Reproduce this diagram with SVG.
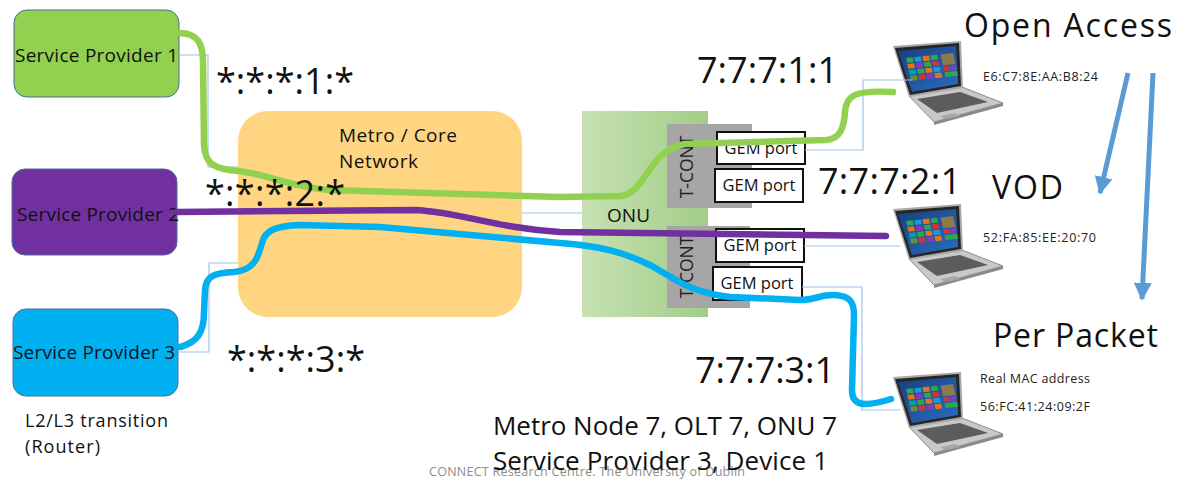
<svg xmlns="http://www.w3.org/2000/svg" xmlns:xlink="http://www.w3.org/1999/xlink" width="1187" height="483" viewBox="0 0 1187 483">
  <style>
    text { font-family: "Open Sans", "Noto Sans", "Liberation Sans", sans-serif; fill: #111; }
    .sp { stroke: #4a6f96; stroke-width: 1; }
    .sp-label { font-size: 19px; }
    .addr { font-size: 36px; }
    .mode { font-size: 32px; }
    .mac { font-size: 12.5px; fill: #222; }
    .gem { fill: #fff; stroke: #111; stroke-width: 2; }
    .gem-label { font-size: 16.5px; text-anchor: middle; }
    .tcont { fill: #a6a6a6; }
    .tcont-label { font-size: 17.5px; text-anchor: middle; fill: #222; }
    .thin { fill: none; stroke: #9dc3e6; stroke-width: 1.2; }
    .flow { fill: none; stroke-width: 6.5; stroke-linecap: round; stroke-linejoin: round; }
    .note { font-size: 26px; }
    .hint { fill: none; stroke: #5b9bd5; stroke-width: 5; marker-end: url(#arrowhead); }
  </style>
  <defs>
    <linearGradient id="onuFill" x1="0" y1="0" x2="1" y2="0">
      <stop offset="0" stop-color="#c6e1b3"/>
      <stop offset="1" stop-color="#a3cd88"/>
    </linearGradient>
    <linearGradient id="screenFill" x1="0" y1="0" x2="1" y2="1">
      <stop offset="0" stop-color="#16407f"/>
      <stop offset="1" stop-color="#2c6cc0"/>
    </linearGradient>
    <marker id="arrowhead" viewBox="0 0 10 10" refX="9" refY="5" markerWidth="3.6" markerHeight="3.6" orient="auto">
      <path d="M0,0 L10,5 L0,10 Z" fill="#5b9bd5"/>
    </marker>
    <!-- laptop with a tiled start screen -->
    <g id="laptop">
      <path d="M909,96 L962,87 L1003,103 L934,122 Z" fill="#c8c8c8" stroke="#8d8d8d" stroke-width="1"/>
      <path d="M934,122 L1003,103 L1003,106 L934,125 Z" fill="#8a8a8a"/>
      <path d="M917,99 L960,92 L988,102 L937,113 Z" fill="#5c5c5c"/>
      <path d="M940,116 L955,113 L960,116 L945,119 Z" fill="#a8a8a8"/>
      <path d="M893,46 L961,41 L963,88 L909,97 Z" fill="#a9a9a9"/>
      <path d="M895,48 L959,43 L961,86 L910,95 Z" fill="#262626"/>
      <path d="M898,51 L956,46 L958,84 L912,92 Z" fill="url(#screenFill)"/>
      <g transform="matrix(0.48,-0.05,0.06,0.27,906,58)">
        <rect x="0" y="0" width="14" height="18" fill="#2ea84f"/>
        <rect x="17" y="0" width="14" height="18" fill="#1c9ad6"/>
        <rect x="34" y="0" width="14" height="18" fill="#e8711c"/>
        <rect x="51" y="0" width="14" height="18" fill="#2ea84f"/>
        <rect x="72" y="0" width="26" height="40" fill="#8c7a4a"/>
        <rect x="0" y="22" width="14" height="18" fill="#e8711c"/>
        <rect x="17" y="22" width="14" height="18" fill="#8a3ab9"/>
        <rect x="34" y="22" width="14" height="18" fill="#2ea84f"/>
        <rect x="51" y="22" width="14" height="18" fill="#d13438"/>
        <rect x="0" y="44" width="14" height="18" fill="#00a3a3"/>
        <rect x="17" y="44" width="14" height="18" fill="#2ea84f"/>
        <rect x="34" y="44" width="14" height="18" fill="#e8711c"/>
        <rect x="51" y="44" width="14" height="18" fill="#1c9ad6"/>
        <rect x="72" y="44" width="12" height="18" fill="#d13438"/>
        <rect x="87" y="44" width="11" height="18" fill="#8a3ab9"/>
        <rect x="0" y="66" width="14" height="18" fill="#6b8e3a"/>
        <rect x="17" y="66" width="14" height="18" fill="#d13438"/>
        <rect x="34" y="66" width="14" height="18" fill="#8a3ab9"/>
        <rect x="51" y="66" width="14" height="18" fill="#e8711c"/>
        <rect x="72" y="66" width="26" height="18" fill="#2ea84f"/>
      </g>
    </g>
  </defs>

  <rect width="1187" height="483" fill="#ffffff"/>

  <!-- service providers -->
  <g id="sp1">
    <rect class="sp" x="14" y="10" width="165" height="87" rx="13" fill="#92d050"/>
    <text class="sp-label" x="15" y="62" textLength="163">Service Provider 1</text>
  </g>
  <g id="sp2">
    <rect class="sp" x="12" y="169" width="165" height="86" rx="13" fill="#7030a0"/>
    <text class="sp-label" x="17" y="221" textLength="162">Service Provider 2</text>
  </g>
  <g id="sp3">
    <rect class="sp" x="13" y="309" width="165" height="87" rx="13" fill="#00b0f0"/>
    <text class="sp-label" x="13" y="359" textLength="162">Service Provider 3</text>
  </g>
  <g id="router-note">
    <text x="25" y="427" font-size="18" fill="#333" textLength="143">L2/L3 transition</text>
    <text x="25" y="453" font-size="18" fill="#333" textLength="75">(Router)</text>
  </g>

  <!-- metro / core network -->
  <g id="metro">
    <rect x="238" y="111" width="284" height="206" rx="30" fill="#ffd581"/>
    <text x="339" y="142" font-size="19" textLength="118">Metro / Core</text>
    <text x="339" y="168" font-size="19" textLength="79">Network</text>
  </g>

  <!-- ONU with its T-CONTs and GEM ports -->
  <g id="onu">
    <rect x="582" y="111" width="126" height="206" fill="url(#onuFill)"/>
    <text x="607" y="222" font-size="19" textLength="43">ONU</text>
  </g>
  <g id="tcont-1">
    <rect class="tcont" x="667" y="124" width="85" height="84"/>
    <text class="tcont-label" transform="translate(693,167) rotate(-90)">T-CONT</text>
  </g>
  <g id="tcont-2">
    <rect class="tcont" x="667" y="226" width="83" height="82"/>
    <text class="tcont-label" transform="translate(693,267) rotate(-90)">T-CONT</text>
  </g>
  <g id="gem-1">
    <rect class="gem" x="717" y="132" width="88" height="32"/>
    <text class="gem-label" x="761" y="154">GEM port</text>
  </g>
  <g id="gem-2">
    <rect class="gem" x="715" y="169" width="88" height="33"/>
    <text class="gem-label" x="759" y="191">GEM port</text>
  </g>
  <g id="gem-3">
    <rect class="gem" x="716" y="229" width="88" height="33"/>
    <text class="gem-label" x="760" y="251">GEM port</text>
  </g>
  <g id="gem-4">
    <rect class="gem" x="713" y="267" width="89" height="33"/>
    <text class="gem-label" x="757" y="289">GEM port</text>
  </g>

  <!-- end devices -->
  <g id="device-1">
    <use xlink:href="#laptop"/>
    <text class="mac" x="983" y="81" textLength="115">E6:C7:8E:AA:B8:24</text>
  </g>
  <g id="device-2">
    <use xlink:href="#laptop" transform="translate(0,163)"/>
    <text class="mac" x="983" y="242" textLength="113">52:FA:85:EE:20:70</text>
  </g>
  <g id="device-3">
    <use xlink:href="#laptop" transform="translate(0,331)"/>
    <text class="mac" x="980" y="383" textLength="110">Real MAC address</text>
    <text class="mac" x="980" y="411" textLength="110">56:FC:41:24:09:2F</text>
  </g>

  <!-- connectors -->
  <g id="connectors">
    <path class="thin" d="M179,55 H208 V167 H238"/>
    <path class="thin" d="M178,352 H209 V263 H238"/>
    <path class="thin" d="M522,213 H582"/>
    <path class="thin" d="M805,150 H863 V80 H912"/>
    <path class="thin" d="M804,246 H900"/>
    <path class="thin" d="M802,287 H862 V410 H900"/>

    <path class="flow" stroke="#92d050" d="M179,33 C198,33 203,44 203,62 L204,145 C205,164 214,169 238,171 C268,174 290,187 330,190 L560,197 L620,196 C645,195 648,150 685,144 L826,140 C840,139 844,128 845,112 C846,95 855,90 893,92"/>
    <path class="flow" stroke="#7030a0" d="M177,212 L415,210 C460,212 495,228 560,232 L886,236"/>
    <path class="flow" stroke="#00b0f0" d="M180,347 C198,342 204,332 204,312 L205,290 C206,276 214,273 234,272 C254,270 258,258 262,243 C265,230 276,226 300,225 L380,227 L560,243 C600,246 624,252 652,266 C676,280 692,293 730,297 L800,300 C815,300 822,294 835,295 C848,296 854,300 854,315 L852,390 C852,405 862,408 891,399"/>

    <path class="hint" d="M1128,73 L1100,193"/>
    <path class="hint" d="M1153,73 L1142,299"/>
  </g>

  <!-- address labels -->
  <g id="labels">
    <text class="addr" x="216" y="94" textLength="138">*:*:*:1:*</text>
    <text class="addr" x="205" y="206" textLength="140">*:*:*:2:*</text>
    <text class="addr" x="227" y="372" textLength="138">*:*:*:3:*</text>
    <text class="addr" font-size="35" x="697" y="83" textLength="141">7:7:7:1:1</text>
    <text class="addr" font-size="35" x="818" y="194" textLength="143">7:7:7:2:1</text>
    <text class="addr" font-size="35" x="695" y="383" textLength="140">7:7:7:3:1</text>
    <text class="mode" x="964" y="37" textLength="208">Open Access</text>
    <text class="mode" x="992" y="199" textLength="71">VOD</text>
    <text class="mode" x="993" y="347" textLength="165">Per Packet</text>
    <text x="429" y="476" font-size="12.5" style="fill:#8c8c8c" textLength="316">CONNECT Research Centre. The University of Dublin</text>
    <text class="note" x="493" y="435" textLength="344">Metro Node 7, OLT 7, ONU 7</text>
    <text class="note" x="493" y="470" textLength="335">Service Provider 3, Device 1</text>
  </g>
</svg>
